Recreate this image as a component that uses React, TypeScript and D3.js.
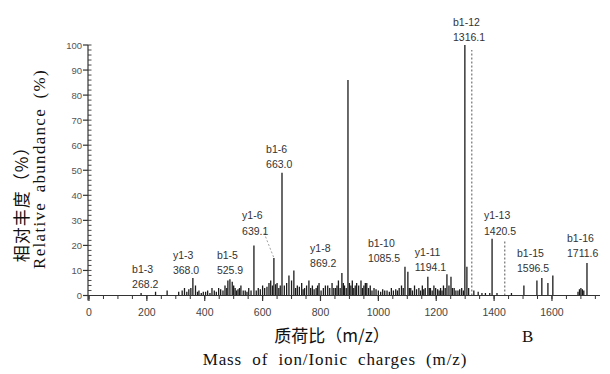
import React from "react";
import * as d3 from "d3";

const W = 610;
const H = 374;

// m/z and relative abundance (%) of the spectrum lines
const peakMz = [
  180, 230, 270, 310, 322, 330, 338, 345, 352, 359, 368, 375, 380, 388, 395,
  403, 410, 418, 425, 433, 440, 448, 455, 463, 470, 476, 480, 487, 495, 500, 505, 510, 515, 520, 525, 533, 540, 546, 552, 560,
  570, 578, 585, 592, 600, 607, 615, 622, 628, 634, 639, 645, 650, 656, 661, 667, 675, 683, 691, 700, 708, 714, 720, 727, 735, 740, 745,
  752, 760, 766, 772, 778, 785, 790, 795, 802, 810, 817, 825, 832, 840, 846, 852, 857, 862, 868, 874, 879, 883, 889, 895, 900, 905, 910, 915, 920, 925,
  932, 940, 945, 950, 955, 960, 966, 972, 978, 985, 992, 1000, 1008, 1015, 1022, 1030, 1038, 1045, 1052, 1060, 1066, 1072, 1080, 1086, 1092,
  1102, 1107, 1112, 1118, 1125, 1132, 1140, 1146, 1152, 1157, 1162, 1171, 1176, 1180, 1186, 1192, 1198, 1205, 1210, 1215, 1220, 1225, 1231,
  1237, 1244, 1251, 1256, 1262, 1268, 1275, 1281, 1288, 1294, 1299, 1306, 1312, 1330, 1345, 1358, 1370, 1385, 1393, 1410,
  1460, 1503, 1548, 1565, 1586, 1603, 1690, 1695, 1700, 1705, 1710, 1721,
];
const peakAbund = [
  1, 1.5, 2, 1.5, 2, 3, 1.5, 2.5, 3, 7, 4, 1.5, 2, 1, 1.5,
  1.5, 2, 1, 3, 2, 1.5, 3, 2.5, 2, 4, 3, 6, 6.5, 5.5, 4, 3, 2, 2.5, 3, 4, 2, 2, 1.5, 3, 2,
  20, 2, 3, 2.5, 4, 3, 3.5, 5, 6, 4, 15, 4.5, 5, 3, 4, 49, 4, 5, 8, 6, 10, 3, 4, 3.5, 5, 2.5, 3,
  4, 6, 3, 4, 2.5, 3, 4, 5, 2, 3, 4, 4, 3, 5, 3, 3, 4, 6, 3, 9, 5, 4, 3, 86, 5, 4, 6, 3, 4, 5,
  4, 6, 3, 4, 5, 5, 3, 4, 2, 3, 2.5, 2, 1.5, 2.5, 2, 2, 1.5, 3, 2, 2.5, 2, 3, 4, 3, 11.5,
  9.5, 3, 3, 2, 4, 2.5, 3, 2, 4, 2.5, 3, 7.5, 3, 3, 2, 4, 3, 2.5, 2, 3, 2, 4, 3,
  8.5, 4, 7.5, 3, 3, 2, 2, 2.5, 3, 2, 100, 11.5, 3, 2, 1.5, 1, 1, 1, 22.7, 1,
  1, 4, 6, 7, 5, 8, 1.5, 2.5, 3, 2.5, 2, 13,
];

// dotted marker lines (m/z, abundance)
const dottedMz = [1323, 1437];
const dottedAbund = [98, 22];

// fragment ion labels: name, m/z value, label anchor (m/z, abundance)
const labelNames = ["b1-3", "y1-3", "b1-5", "y1-6", "b1-6", "y1-8", "b1-10", "y1-11", "b1-12", "y1-13", "b1-15", "b1-16"];
const labelValues = ["268.2", "368.0", "525.9", "639.1", "663.0", "869.2", "1085.5", "1194.1", "1316.1", "1420.5", "1596.5", "1711.6"];
const labelAnchorMz = [149, 290, 442, 529, 612, 764, 964, 1126, 1258, 1365, 1479, 1652];
const labelAnchorAbund = [9, 14.6, 14.6, 30.5, 56.9, 17.4, 19.4, 15.8, 107.6, 30.5, 15.4, 21.4];

// leader line from y1-6 label to its peak
const leaderMz = [605, 639];
const leaderAbund = [25, 15];

const xTicks = [0, 200, 400, 600, 800, 1000, 1200, 1400, 1600];
const yTicks = [0, 10, 20, 30, 40, 50, 60, 70, 80, 90, 100];

export default function App() {
  const x = d3.scaleLinear().domain([0, 1766]).range([89, 600]);
  const y = d3.scaleLinear().domain([0, 100]).range([295.5, 45]);
  const y0 = y(0);

  const minorX = d3.range(0, 1751, 50);
  const minorY = d3.range(0, 101, 2);

  const sans = "'Liberation Sans', Arial, sans-serif";
  const serif = "'Liberation Serif', 'Times New Roman', serif";
  const cjk = "'Noto Sans CJK SC', sans-serif";

  return (
    <svg width={W} height={H} style={{ position: "absolute", left: 0, top: 0, background: "#fff" }}>
      <rect x={0} y={0} width={W} height={H} fill="#fff" />
      {/* peaks */}
      <g stroke="#1a1a1a" strokeWidth={1.3}>
        {peakMz.map((m, i) => (
          <line key={i} x1={x(m)} x2={x(m)} y1={y0} y2={y(peakAbund[i])} />
        ))}
      </g>
      <g stroke="#555" strokeWidth={1} strokeDasharray="2,2">
        {dottedMz.map((m, i) => (
          <line key={i} x1={x(m)} x2={x(m)} y1={y0} y2={y(dottedAbund[i])} />
        ))}
        <line x1={x(leaderMz[0])} y1={y(leaderAbund[0])} x2={x(leaderMz[1])} y2={y(leaderAbund[1])} strokeWidth={0.8} stroke="#888" />
      </g>
      {/* labels */}
      <g fontFamily={sans} fontSize={10.5} fill="#333">
        {labelNames.map((n, i) => (
          <g key={n}>
            <text x={x(labelAnchorMz[i])} y={y(labelAnchorAbund[i])}>{n}</text>
            <text x={x(labelAnchorMz[i])} y={y(labelAnchorAbund[i]) + 15.5}>{labelValues[i]}</text>
          </g>
        ))}
      </g>
      {/* x axis */}
      <g stroke="#333" strokeWidth={1.2}>
        <line x1={85} x2={600} y1={y0} y2={y0} />
        {minorX.map((t) => (
          <line key={t} x1={x(t)} x2={x(t)} y1={y0} y2={y0 + 3.5} strokeWidth={1} />
        ))}
        {xTicks.map((t) => (
          <line key={t} x1={x(t)} x2={x(t)} y1={y0} y2={y0 + 5.5} />
        ))}
      </g>
      <g fontFamily={sans} fontSize={10.5} fill="#444" textAnchor="middle">
        {xTicks.map((t) => (
          <text key={t} x={x(t)} y={316}>{t}</text>
        ))}
      </g>
      {/* y axis */}
      <g stroke="#333" strokeWidth={1.2}>
        <line x1={88} x2={88} y1={y(100)} y2={y0 + 5} />
        {minorY.map((t) => (
          <line key={t} x1={88} x2={91.5} y1={y(t)} y2={y(t)} strokeWidth={0.9} />
        ))}
        {yTicks.map((t) => (
          <line key={t} x1={83} x2={88} y1={y(t)} y2={y(t)} />
        ))}
      </g>
      <g fontFamily={sans} fontSize={9.5} fill="#555" textAnchor="end">
        {yTicks.map((t) => (
          <text key={t} x={82} y={y(t) + 3.5}>{t}</text>
        ))}
      </g>
      {/* axis titles */}
      <text transform="translate(28,200) rotate(-90)" textAnchor="middle" fontFamily={cjk} fontSize={17} fill="#111" letterSpacing={1}>相对丰度（%）</text>
      <text transform="translate(45,169) rotate(-90)" textAnchor="middle" fontFamily={serif} fontSize={17} fill="#111" letterSpacing={1.3} wordSpacing={4}>Relative abundance (%)</text>
      <text x={332} y={342} textAnchor="middle" fontFamily={cjk} fontSize={17} fill="#111">质荷比（m/z）</text>
      <text x={335} y={365} textAnchor="middle" fontFamily={serif} fontSize={17} fill="#111" letterSpacing={0.9} wordSpacing={5}>Mass of ion/Ionic charges (m/z)</text>
      <text x={522} y={342} fontFamily={serif} fontSize={17} fill="#111">B</text>
    </svg>
  );
}
